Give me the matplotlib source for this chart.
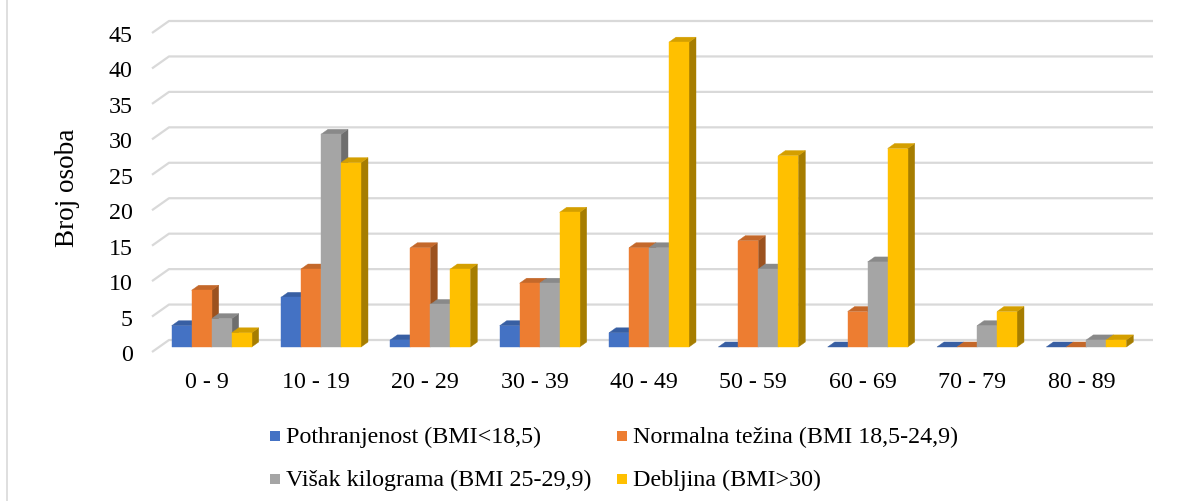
import matplotlib.pyplot as plt
from matplotlib.patches import Polygon, Rectangle
from matplotlib.lines import Line2D

groups = ['0 - 9', '10 - 19', '20 - 29', '30 - 39', '40 - 49',
          '50 - 59', '60 - 69', '70 - 79', '80 - 89']
series = ['Pothranjenost (BMI<18,5)', 'Normalna težina (BMI 18,5-24,9)',
          'Višak kilograma (BMI 25-29,9)', 'Debljina (BMI>30)']
pothranjenost = [3, 7, 1, 3, 2, 0, 0, 0, 0]
normalna = [8, 11, 14, 9, 14, 15, 5, 0, 0]
visak = [4, 30, 6, 9, 14, 11, 12, 3, 1]
debljina = [2, 26, 11, 19, 43, 27, 28, 5, 1]
yticks = list(range(0, 50, 5))

# front, top, side colours per series
colors = [('#4472C4', '#385FA3', '#2C4A80'),
          ('#ED7D31', '#C4682A', '#9C521F'),
          ('#A5A5A5', '#898989', '#6E6E6E'),
          ('#FFC000', '#D49F00', '#A67D00')]

W, H = 1203, 502
fig = plt.figure(figsize=(W / 100, H / 100), dpi=100)
plt.rcParams['font.family'] = ['Liberation Serif', 'DejaVu Serif']

# axes = front plane of the 3D box
left_px, right_px, top_px, bot_px = 152, 1136, 34, 353
ax = fig.add_axes([left_px / W, 1 - bot_px / H,
                   (right_px - left_px) / W, (bot_px - top_px) / H])
ax.set_xlim(-0.5, len(groups) - 0.5)
ax.set_ylim(0, 45)
ax.patch.set_alpha(0)
for s in ax.spines.values():
    s.set_visible(False)

px_x = (right_px - left_px) / len(groups)
px_y = (bot_px - top_px) / 45.0
fdx, fdy = 17 / px_x, 12 / px_y      # floor depth
sx, sy = 5 / px_x, 5 / px_y          # bar position inside depth
bdx, bdy = 7 / px_x, 5 / px_y        # bar depth
bw = 20 / px_x

# gridlines with the oblique wall part
for v in yticks:
    ax.plot([-0.5, -0.5 + fdx, len(groups) - 0.5 + fdx], [v, v + fdy, v + fdy],
            color='#D9D9D9', lw=1.6, clip_on=False, zorder=1,
            solid_capstyle='butt')

data = [pothranjenost, normalna, visak, debljina]
z = 2
for i in range(len(groups)):
    x0 = i - 0.5 + (1 - 4 * bw) / 2 + sx
    for k, vals in enumerate(data):
        v = vals[i]
        front, top, side = colors[k]
        a = x0 + k * bw
        b = a + bw
        y0, y1 = sy, sy + v
        ax.add_patch(Polygon([(b, y0), (b + bdx, y0 + bdy), (b + bdx, y1 + bdy), (b, y1)],
                             closed=True, fc=side, ec=side, lw=0.3, zorder=z, clip_on=False))
        ax.add_patch(Polygon([(a, y1), (b, y1), (b + bdx, y1 + bdy), (a + bdx, y1 + bdy)],
                             closed=True, fc=top, ec=top, lw=0.3, zorder=z + 1, clip_on=False))
        if v > 0:
            ax.add_patch(Polygon([(a, y0), (b, y0), (b, y1), (a, y1)],
                                 closed=True, fc=front, ec=front, lw=0.3, zorder=z + 2,
                                 clip_on=False))
        z += 3

ax.set_yticks(yticks)
ax.set_yticklabels([str(t) for t in yticks], fontsize=17.3)
ax.set_xticks(range(len(groups)))
ax.set_xticklabels(groups, fontsize=17.3)
ax.tick_params(axis='y', length=0, pad=14)
ax.tick_params(axis='x', length=0, pad=14)

ax.set_ylabel('Broj osoba', fontsize=19.5, va='center')
ax.yaxis.set_label_coords((67 - left_px) / (right_px - left_px),
                          (bot_px - 188) / (bot_px - top_px))

# legend, two rows by two columns
leg_pos = [(270, 437), (617, 437), (270, 480), (617, 480)]
for k, (lx, ly) in enumerate(leg_pos):
    fig.add_artist(Rectangle((lx / W, 1 - (ly + 5) / H), 10 / W, 10 / H,
                             transform=fig.transFigure, fc=colors[k][0], ec='none'))
    fig.text((lx + 16) / W, 1 - ly / H, series[k], fontsize=17.3,
             ha='left', va='center')

# left frame edge
fig.add_artist(Line2D([7 / W, 7 / W], [0, 1], transform=fig.transFigure,
                      color='#D9D9D9', lw=1.2))

fig.savefig('out.png', dpi=100)
